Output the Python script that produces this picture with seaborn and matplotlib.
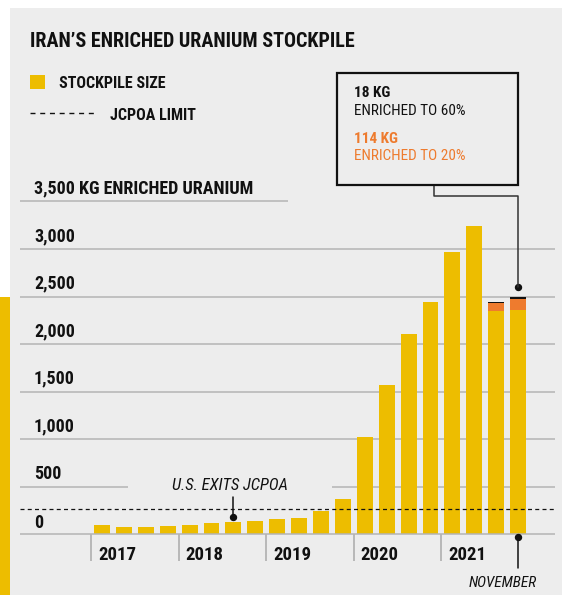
import numpy as np
import pandas as pd
import matplotlib
matplotlib.use("Agg")
import matplotlib.pyplot as plt
import seaborn as sns
from matplotlib import font_manager as fm
from matplotlib.patches import Rectangle
from matplotlib.lines import Line2D

# ---------------- data ----------------
periods = ["Feb 2017", "May 2017", "Aug 2017", "Nov 2017",
           "Feb 2018", "May 2018", "Aug 2018", "Nov 2018",
           "Feb 2019", "May 2019", "Aug 2019", "Nov 2019",
           "Feb 2020", "May 2020", "Sep 2020", "Nov 2020",
           "Feb 2021", "May 2021", "Sep 2021", "Nov 2021"]
low_enriched = [101, 79, 79, 89, 101, 121, 131, 141, 163, 174,
                241, 372, 1021, 1572, 2105, 2443, 2968, 3241, 2350, 2358]
enriched_20 = [0] * 18 + [84, 114]
enriched_60 = [0] * 18 + [10, 18]
year_labels = ["2017", "2018", "2019", "2020", "2021"]
year_first_index = [0, 4, 8, 12, 16]
grid_values = [0, 500, 1000, 1500, 2000, 2500, 3000, 3500]
jcpoa_limit = 265

# ---------------- style ----------------
YELLOW = "#edbd00"
ORANGE = "#ee7b2e"
BG = "#ededed"
GRID = "#b4b4b4"
INK = "#111111"

sns.set_theme(style="white")
names = {f.name for f in fm.fontManager.ttflist}
FONT = "DejaVu Sans"
for c in ["Roboto Condensed", "Archivo Narrow", "Liberation Sans Narrow", "DejaVu Sans"]:
    if c in names:
        FONT = c
        break
plt.rcParams["font.family"] = [FONT, "DejaVu Sans"]

W, H = 562, 595
fig = plt.figure(figsize=(W / 100, H / 100), dpi=100)
fig.patch.set_facecolor("white")


def fx(p):
    return p / W


def fy(p):
    return 1 - p / H


# panel background and yellow stripe
fig.patches.append(Rectangle((fx(10), 0), (W - 10) / W, (H - 8) / H, transform=fig.transFigure,
                             facecolor=BG, edgecolor="none", zorder=-10))
fig.patches.append(Rectangle((0, 0), fx(10), (H - 297) / H, transform=fig.transFigure,
                             facecolor=YELLOW, edgecolor="none", zorder=-9))

ax = fig.add_axes([fx(20), 0, (555 - 20) / W, 1])
ax.patch.set_alpha(0)

df = pd.DataFrame({
    "period": periods,
    "low": low_enriched,
})
df["mid"] = df["low"] + np.array(enriched_20)
df["total"] = df["mid"] + np.array(enriched_60)

for col, colr in [("total", INK), ("mid", ORANGE), ("low", YELLOW)]:
    sns.barplot(data=df, x="period", y=col, order=periods, color=colr, width=0.73,
                saturation=1, ax=ax, zorder=3, linewidth=0, edgecolor="none")

STEP = 21.9
X0 = 102.0
KPP = 10.515
BASE = 534.3


def xd(p):
    return (p - X0) / STEP


def yd(p):
    return (BASE - p) * KPP


ax.set_xlim(xd(20), xd(555))
ax.set_ylim(yd(H), yd(0))
ax.axis("off")

# grid lines
for v in grid_values:
    if v == 3500:
        ax.hlines(v, xd(20), xd(288), color=GRID, lw=1.1, zorder=1)
    elif v == 500:
        ax.hlines(v, xd(20), xd(128), color=GRID, lw=1.1, zorder=1)
        ax.hlines(v, xd(332), xd(555), color=GRID, lw=1.1, zorder=1)
    else:
        ax.hlines(v, xd(20), xd(555), color=GRID, lw=1.1, zorder=1 if v else 4)
    lab = f"{v:,}"
    if v == 3500:
        lab = "3,500 KG ENRICHED URANIUM"
    off = 6 if v == 0 else 8
    ax.text(xd(34), v + off * KPP, lab, ha="left", va="baseline",
            fontsize=13, fontweight="bold", color=INK)

# JCPOA limit
ax.hlines(jcpoa_limit, xd(20), xd(555), color=INK, lw=0.9,
          linestyles=(0, (3.2, 2.6)), zorder=5)

# year separators and labels
for idx, lab in zip(year_first_index, year_labels):
    ax.vlines(idx - 0.5, yd(561), 0, color="#aaaaaa", lw=1.1, zorder=1)
    ax.text(idx - 0.5 + 7 / STEP, yd(560), lab, ha="left", va="baseline",
            fontsize=13.5, fontweight="bold", color=INK)

# U.S. exits JCPOA annotation
ex = 6
ydot = df["total"][ex] + 5 * KPP
ax.plot([ex], [ydot], "o", color=INK, ms=4.3, zorder=6)
ax.plot([ex, ex], [ydot, yd(497)], color=INK, lw=1.1, zorder=6)
ax.text(xd(230), yd(490), "U.S. EXITS JCPOA", ha="center", va="baseline",
        fontsize=12, style="italic", color=INK)

# November annotation
nv = 19
ax.plot([nv], [yd(537)], "o", color=INK, ms=4.3, zorder=6)
ax.plot([nv, nv], [yd(537), yd(568)], color=INK, lw=1.1, zorder=6)
ax.text(xd(503), yd(587), "NOVEMBER", ha="center", va="baseline",
        fontsize=11, style="italic", color=INK)

# callout box connector
ytop = df["total"][nv] + 10 * KPP
ax.plot([nv], [ytop], "o", color=INK, ms=4.3, zorder=6, clip_on=False)
ax.plot([nv, nv, xd(434), xd(434)], [ytop, yd(196), yd(196), yd(185)],
        color="#333333", lw=1.1, zorder=6, clip_on=False)

fig.patches.append(Rectangle((fx(337), fy(185)), (518 - 337) / W, (185 - 73) / H,
                             transform=fig.transFigure, facecolor="none",
                             edgecolor=INK, lw=1.6, zorder=5))
fig.text(fx(354), fy(97), f"{enriched_60[-1]} KG", fontsize=11, fontweight="bold",
         color=INK, va="baseline")
fig.text(fx(354), fy(115), "ENRICHED TO 60%", fontsize=11, color=INK, va="baseline")
fig.text(fx(354), fy(143), f"{enriched_20[-1]} KG", fontsize=11, fontweight="bold",
         color=ORANGE, va="baseline")
fig.text(fx(354), fy(160), "ENRICHED TO 20%", fontsize=11, color=ORANGE, va="baseline")

# title and legend
fig.text(fx(30), fy(47), "IRAN\u2019S ENRICHED URANIUM STOCKPILE", fontsize=14.5,
         fontweight="bold", color=INK, va="baseline")
fig.patches.append(Rectangle((fx(30), fy(89)), 15 / W, 14 / H, transform=fig.transFigure,
                             facecolor=YELLOW, edgecolor="none"))
fig.text(fx(59), fy(88), "STOCKPILE SIZE", fontsize=11.5, fontweight="bold", color=INK,
         va="baseline")
fig.lines.append(Line2D([fx(30), fx(97)], [fy(113), fy(113)], transform=fig.transFigure,
                        color=INK, lw=1.0, linestyle=(0, (3.6, 3.4))))
fig.text(fx(110), fy(120), "JCPOA LIMIT", fontsize=11.5, fontweight="bold", color=INK,
         va="baseline")

fig.savefig("out.png", dpi=100, facecolor=fig.get_facecolor())
